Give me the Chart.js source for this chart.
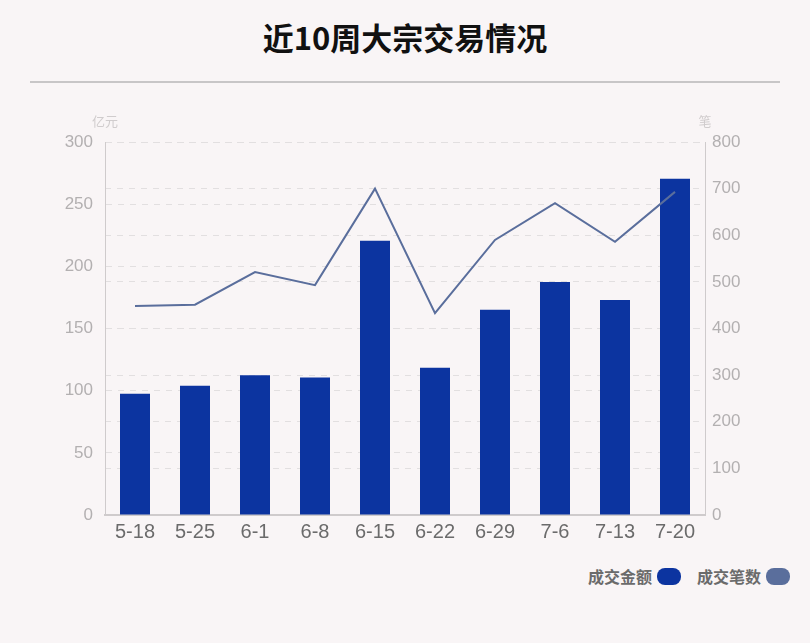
<!DOCTYPE html>
<html>
<head>
<meta charset="utf-8">
<script src="https://cdn.jsdelivr.net/npm/chart.js@4"></script>
<style>
    body { margin: 0; background: #f9f5f6; width: 810px; height: 643px; position: relative; overflow: hidden;
        font-family: "Liberation Sans", "Noto Sans CJK SC", sans-serif; }
    #title { position: absolute; top: 14px; left: 0; width: 810px; text-align: center;
        font-size: 31px; font-weight: bold; color: #111; font-family: "Noto Sans CJK SC", sans-serif; }
    #rule { position: absolute; top: 81px; left: 30px; width: 750px; height: 2px; background: #c8c6c7; }
    #chart-box { position: absolute; top: 100px; left: 0; width: 810px; height: 460px; }
    #legend { position: absolute; top: 564px; right: 20px; display: flex; align-items: center;
        font-family: "Noto Sans CJK SC", sans-serif; font-size: 16px; font-weight: bold; color: #6b6b6b; }
    .item { display: flex; align-items: center; margin-left: 16px; }
    .swatch { width: 24px; height: 17px; border-radius: 8px; margin-left: 5px; }
</style>
</head>
<body>
<div id="title">近10周大宗交易情况</div>
<div id="rule"></div>
<div id="chart-box"><canvas id="weeklyChart"></canvas></div>
<div id="legend">
    <div class="item">成交金额<span class="swatch" style="background:#0c34a0"></span></div>
    <div class="item">成交笔数<span class="swatch" style="background:#5a6e9c"></span></div>
</div>
<script>
// Data
const weeks = ['5-18', '5-25', '6-1', '6-8', '6-15', '6-22', '6-29', '7-6', '7-13', '7-20'];
const amounts = [97.5, 104, 112.5, 110.5, 220.5, 118.5, 165, 187.5, 173, 270.5];
const deals = [448, 451, 521, 493, 700, 433, 590, 669, 586, 693];

const gridStyle = { color: '#e2dfe0', lineWidth: 1, drawTicks: false };

// Unit labels above both y axes
const unitLabels = {
    id: 'unitLabels',
    afterDraw(chart) {
        const ctx = chart.ctx;
        const area = chart.chartArea;
        ctx.save();
        ctx.font = '13px "Noto Sans CJK SC", sans-serif';
        ctx.fillStyle = '#d0cccd';
        ctx.textBaseline = 'middle';
        ctx.textAlign = 'center';
        ctx.fillText('亿元', area.left, area.top - 21);
        ctx.fillText('笔', area.right, area.top - 21);
        ctx.restore();
    }
};

const ctx = document.getElementById('weeklyChart').getContext('2d');
new Chart(ctx, {
    data: {
        labels: weeks,
        datasets: [
            {
                type: 'line',
                label: '成交笔数',
                data: deals,
                yAxisID: 'yRight',
                borderColor: '#5a6e9c',
                borderWidth: 2,
                pointRadius: 0,
                tension: 0,
                order: 0
            },
            {
                type: 'bar',
                label: '成交金额',
                data: amounts,
                yAxisID: 'yLeft',
                backgroundColor: '#0c34a0',
                barPercentage: 0.5,
                categoryPercentage: 1,
                order: 1
            }
        ]
    },
    options: {
        responsive: true,
        maintainAspectRatio: false,
        animation: false,
        layout: { padding: { top: 42, left: 0, right: 0, bottom: 0 } },
        plugins: {
            legend: { display: false },
            tooltip: { enabled: false }
        },
        scales: {
            x: {
                grid: { display: false, drawTicks: false },
                border: { color: '#cfcbcc', width: 2 },
                ticks: { color: '#6b6b6b', font: { size: 20, family: '"Liberation Sans", sans-serif' }, padding: 5 },
                afterFit: (scale) => { scale.height = 45; }
            },
            yLeft: {
                position: 'left',
                min: 0,
                max: 300,
                grid: gridStyle,
                border: { color: '#cfcbcc', dash: [6, 6] },
                ticks: { stepSize: 50, color: '#b3b0b1', font: { size: 17, family: '"Liberation Sans", sans-serif' }, padding: 12 },
                afterFit: (scale) => { scale.width = 105; }
            },
            yRight: {
                position: 'right',
                min: 0,
                max: 800,
                grid: gridStyle,
                border: { color: '#cfcbcc', dash: [6, 6] },
                ticks: { stepSize: 100, color: '#b3b0b1', font: { size: 17, family: '"Liberation Sans", sans-serif' }, padding: 7 },
                afterFit: (scale) => { scale.width = 105; }
            }
        }
    },
    plugins: [unitLabels]
});
</script>
</body>
</html>
